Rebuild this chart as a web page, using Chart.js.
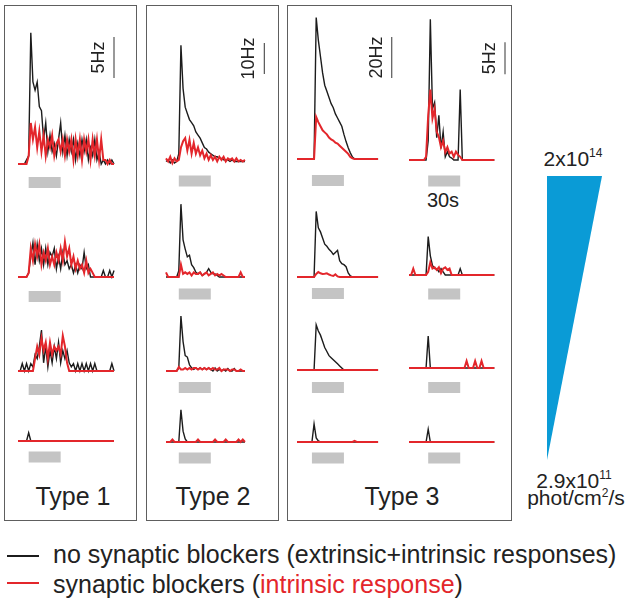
<!DOCTYPE html>
<html>
<head>
<meta charset="utf-8">
<script src="https://cdn.jsdelivr.net/npm/chart.js@4.4.0/dist/chart.umd.min.js"></script>
<style>
  body { margin: 0; width: 630px; height: 605px; position: relative; overflow: hidden; background: #fff;
         font-family: "Liberation Sans", Arial, sans-serif; color: #222; }
  canvas { position: absolute; }
  .box { position: absolute; top: 5px; height: 516px; border: 1.3px solid #5e5e5e; box-sizing: border-box; }
  .txt { position: absolute; line-height: 1; white-space: nowrap; }
  .type { font-size: 25px; transform: translateX(-50%); top: 484px; }
  .tri { font-size: 21px; transform: translateX(-50%); }
  .tri sup { font-size: 12px; vertical-align: 0; position: relative; top: -9px; }
  .legend { font-size: 25px; left: 53px; }
  .dash { position: absolute; left: 7px; width: 32px; height: 2px; }
</style>
</head>
<body>
<div class="box" style="left:4px;width:133px"></div>
<div class="box" style="left:146px;width:133px"></div>
<div class="box" style="left:287px;width:225px"></div>

<div class="txt type" style="left:73px">Type 1</div>
<div class="txt type" style="left:213px">Type 2</div>
<div class="txt type" style="left:402px">Type 3</div>
<div class="txt" style="left:443px;top:190px;font-size:20px;transform:translateX(-50%)">30s</div>

<div class="txt tri" style="left:573px;top:148px">2x10<sup>14</sup></div>
<div class="txt tri" style="left:574px;top:470px">2.9x10<sup>11</sup></div>
<div class="txt tri" style="left:576px;top:487px">phot/cm<sup style="top:-8px">2</sup>/s</div>

<div class="dash" style="top:555px;background:#1c1c1c"></div>
<div class="dash" style="top:582px;background:#e3262b"></div>
<div class="txt legend" style="top:542px">no synaptic blockers (extrinsic+intrinsic responses)</div>
<div class="txt legend" style="top:572px">synaptic blockers (<span style="color:#e3262b">intrinsic response</span>)</div>

<script>
// firing rate in Hz, 2 s bins starting at t = 0; row 1 = brightest light, row 4 = dimmest
const binSec = 2;
const stimDur = 30;
const stimOn = [10, 12, 14, 18];          // light onset per column (s)
const scaleHz = [5, 10, 20, 5];
const scaleLabels = ['5Hz', '10Hz', '20Hz', '5Hz'];
const intensityLog = [11.46, 14.30];      // log10 phot/cm2/s, dimmest -> brightest

// Type 1
const t1Black1 = [0,0,0,0,0.5,1,16,10,9,10, 7,6.5,3,5,1.5,3.5,1.5,2.5,1,3, 5,1.5,3.5,1,3,1.5,3,0.5,2.5,1, 3,1.5,3,0.5,2,1,3,0.5,1.5,0, 0.5,0,0.5,0,0.5,0];
const t1Red1   = [0,0,0,0,0,1,5,3,4.5,2, 4,1.5,3.5,1,3,2,3.5,1,2.5,3, 1.5,3,1,3,1.5,3,0.5,3,1,3, 0.5,3,1.5,3,0.5,3,1,3,0.5,3, 0.5,0.5,0,0.5,0,0];
const t1Black2 = [0,0,0,0,0,0.5,2.5,4.2,1.5,4, 2,3.5,1.5,3.5,1.5,3,2.5,3.5,1,2.5, 1,3,1.5,2,1,1.5,0.5,1.5,0.5,1.5, 1,3,1,1.5,0,0,0,0,0,0, 0.8,0,0,0.8,0,0.8];
const t1Red2   = [0,0,0,0,0,0.5,3.5,2,4,2.5, 4,1.5,3,2,3.5,1.5,2.5,1.5,3,2, 3.5,2,4.3,2.5,3.5,1.5,2.5,1,2,1, 1.5,0.5,2,0.5,1,0.5,0,0,0,0, 0,0,0,0,0,0];
const t1Black3 = [0,0,0.9,0,0.9,0,0.9,0.5,2,1.5, 3,5,1,3,0.5,2.5,1,3,1.5,3.5, 1,2.5,1.5,2.5,1,0.5,0.9,0,0.9,0, 0.9,0,0.9,0,0.9,0,0.9,0,0,0, 0,0,0,0,0.9,0];
const t1Red3   = [0,0,0,0,0,0,0,0,1.5,3, 2,4,2.5,3.5,1.5,3.5,2,3,2.5,3, 2,4.3,3,1,0,0,0,0,0,0, 0,0,0,0,0,0,0,0,0,0, 0,0,0,0,0,0];
const t1Black4 = [0,0,0,0,0,1,0,0,0,0, 0,0,0,0,0,0,0,0,0,0, 0,0,0,0,0,0,0,0,0,0, 0,0,0,0,0,0,0,0,0,0, 0,0,0,0,0,0];
const t1Red4   = [0,0,0,0,0,0,0,0,0,0, 0,0,0,0,0,0,0,0,0,0, 0,0,0,0,0,0,0,0,0,0, 0,0,0,0,0,0,0,0,0,0, 0,0,0,0,0,0];

// Type 2
const t2Black1 = [0.5,1,0,1,0,0.5,3,38,24,18, 16,14,13,12,10,9,8,6.5,5,4.5, 3.5,3,2.5,2,2,1.5,1.5,1,1,1, 0.5,1,0.5,0.5,0.5,0.5,0.5,0.5];
const t2Red1   = [1.5,0.5,2,0,1.5,0.5,1,5,7,8, 4,7.5,3,6.5,3,5,2.5,4,1.5,3, 1,2.5,1,2,0.5,2,1,2,0.5,1.5, 1,1.5,0.5,1.5,0.5,1,0.5,1];
const t2Black2 = [0,0,0,0,0,0,2,23.5,12,9, 6.5,7,4,3,1.5,1,1.5,0.5,1,1.5, 2.7,1.5,1,1,0.5,0,0,0,0,0, 0,0,0,0,0,0,0,0];
const t2Red2   = [1.5,0,0,0,0,0,0,4,1,1.5, 1,1.5,0.5,1.5,1,1,1.5,0.5,1,1.5, 0.5,1,1.5,0.5,1,0.5,1,0.5,0,0, 0,0,0,0,0,1.5,0,0];
const t2Black3 = [0,0,0,0,0,0,1,17.7,9.5,5, 4.5,2,1,0.5,1,0.5,1,0.5,1,0.5, 1,0.5,0,1,0,0.5,0,0.5,0,0.8, 0,0,0.8,0,0,0,0,0];
const t2Red3   = [0,0,0,0,0,0,1.3,0.5,0.5,1, 0.5,1,0.5,1,1,0.5,1,0.5,1,0.5, 1,0.5,1,0.5,0.5,1,0,0.5,0.5,0.5, 0,0.5,0.5,0,0,0.5,0,0];
const t2Black4 = [0,0,0,0,0,0,0,10.4,3.5,1, 0,0,0,0,0,0,0,0,0,0, 0,0,0,0,0,0,0,0,0,0, 0,0,0,0,0,0,0,0];
const t2Red4   = [0,0,0,0.8,0,0,0,0,0,0, 0,0,0,0,0,0.8,0,0,0,0, 0,0,0,0.8,0,0,0,0,0.8,0, 0,0,0,0,0.8,0,0.8,0];

// Type 3, left column
const t3aBlack1 = [0,0,0,0,0,0,0,0,0,69, 58,50,42,36,33,30,27,25,22,20, 18,16,12,8.5,5.5,3,1,0,0,0, 0,0,0,0,0,0,0,0,0];
const t3aRed1   = [0,0,0,0,0,0,0,0,0,20.5, 18,16,14,13,12,10.5,9.5,9,8,7.5, 6.5,5.5,4.5,3.5,2.5,1,0.3,0,0,0, 0,0,0,0,0,0,0,0,0];
const t3aBlack2 = [0,0,0,0,0,0,0,0,0,32, 24,22,19,16,15,13.5,12.5,11,12,13, 8,6.5,6,5,2,0.5,0,0,0,0, 0,0,0,0,0,0,0,0,0];
const t3aRed2   = [0,0,0,0,0,0,0,0,0,1.5, 2.4,1.8,1.5,1.6,1.8,1.2,0.8,0.5,1.3,0.3, 0,0,0,0,0,0,0,0,0,0, 0,0,0,0,0,0,0,0,0];
const t3aBlack3 = [0,0,0,0,0,0,0,0,0,22, 19,17,14,11,9,7,6,5,4,3, 2,1,0,0,0,0,0,0,0,0, 0,0,0,0,0,0,0,0,0];
const t3aRed3   = [0,0,0,0,0,0,0,0,0,0, 0,0,0,0,0,0,0,0,0,0, 0,0,0,0,0,0,0,0,0,0, 0,0,0,0,0,0,0,0,0];
const t3aBlack4 = [0,0,0,0,0,0,0,0,8.8,2, 0.5,0,0,0,0,0,0,0,0,0, 0,0,0,0,0,0,0,0,0,0, 0,0,0,0,0,0,0,0,0];
const t3aRed4   = [0,0,0,0,0,0,0,0,0,0, 0,0,0,0,0,0,0,0,0,0, 0,0,0,0,0,0,0,0.5,0,0, 0,0,0,0,0,0,0,0,0];

// Type 3, right column
const t3bBlack1 = [0,0,0,0,0,0,0,0,0,3, 22,8,9,3.5,7,1.8,4.4,0.5,1.3,0.5, 0.3,0,0,0,11,0,0,0,0,0, 0,0,0,0,0,0,0,0,0,0, 0];
const t3bRed1   = [0,0,0,0,0,0,0,0,0.5,7, 11,6.5,8,4.4,3.6,2,3,1.2,2,1, 1.3,0.5,1.3,0.8,0.5,0,0,0,0,0, 0,0,0,0,0,0,0,0,0,0, 0];
const t3bBlack2 = [0,0,0,0,0,0,0,0,0,6, 3,1.5,1,1,0.5,1,0.5,0,0,0, 0,0,0,0,1,0,0,0,0,0, 0,0,0,0,0,0,0,0,0,0, 0];
const t3bRed2   = [0,0,1,0,0,0,0,0,0,0.5, 2,1,1.2,0.8,1.2,0.3,1,1.2,0.8,1, 0,0,0,0,0,0,0,0,0,0, 0,0,0,0,0,0,0,0,0,0, 0];
const t3bBlack3 = [0,0,0,0,0,0,0,0,0,5, 0,0,0,0,0,0,0,0,0,0, 0,0,0,0,0,0,0,0,0,0, 0,0,0,0,0,0,0,0,0,0, 0];
const t3bRed3   = [0,0,0,0,0,0,0,0,0,0, 0,0,0,0,0,0,0,0,0,0, 0,0,0,0,0,0,0,1.1,0,0, 0,1.1,0,0,1.1,0,0,0,0,0, 0];
const t3bBlack4 = [0,0,0,0,0,0,0,0,0,2, 0,0,0,0,0,0,0,0,0,0, 0,0,0,0,0,0,0,0,0,0, 0,0,0,0,0,0,0,0,0,0, 0];
const t3bRed4   = [0,0,0,0,0,0,0,0,0,0, 0,0,0,0,0,0,0,0,0,0, 0,0,0,0,0,0,0,0,0,0, 0,0,0,0,0,0,0,0,0,0, 0];

const traces = [
  [[t1Black1, t1Red1], [t1Black2, t1Red2], [t1Black3, t1Red3], [t1Black4, t1Red4]],
  [[t2Black1, t2Red1], [t2Black2, t2Red2], [t2Black3, t2Red3], [t2Black4, t2Red4]],
  [[t3aBlack1, t3aRed1], [t3aBlack2, t3aRed2], [t3aBlack3, t3aRed3], [t3aBlack4, t3aRed4]],
  [[t3bBlack1, t3bRed1], [t3bBlack2, t3bRed2], [t3bBlack3, t3bRed3], [t3bBlack4, t3bRed4]]
];

// page layout (pixels): where t = 0 sits, baseline and light bar of each row
const pxPerSec = 32 / 30;
const layout = [
  { x0: 18,  pxPerHz: 8.2,  scaleT: 90,   scaleFrom: 10.5, base: [164, 277, 371, 441], bar: [182.5, 296.5, 389.5, 457] },
  { x0: 166, pxPerHz: 3.1,  scaleT: 92.2, scaleFrom: 28.7, base: [163, 277, 371, 442], bar: [181, 294, 387.5, 458] },
  { x0: 297, pxPerHz: 2.05, scaleT: 88.8, scaleFrom: 39.5, base: [159, 277, 370, 442], bar: [180.5, 293.5, 387.5, 458] },
  { x0: 409, pxPerHz: 6.4,  scaleT: 90,   scaleFrom: 13.4, base: [160, 275, 368, 442], bar: [181, 294, 387.5, 458] }
];

const BLACK = '#1c1c1c';
const RED = '#e3262b';
const GRAY = '#c4c4c4';

const toXY = arr => arr.map((v, i) => ({ x: i * binSec, y: v }));

function scaleLabelPlugin(text, t, from, hz) {
  return {
    id: 'scaleLabel',
    afterDatasetsDraw(chart) {
      const { ctx, scales } = chart;
      const px = scales.x.getPixelForValue(t) - 15;
      const py = scales.y.getPixelForValue(from + hz / 2);
      ctx.save();
      ctx.translate(px, py);
      ctx.rotate(-Math.PI / 2);
      ctx.font = '18px "Liberation Sans", Arial, sans-serif';
      ctx.fillStyle = '#222';
      ctx.textAlign = 'center';
      ctx.textBaseline = 'middle';
      ctx.fillText(text, 0, 0);
      ctx.restore();
    }
  };
}

function drawTrace(col, row) {
  const L = layout[col];
  const base = L.base[row];
  // baseline on a pixel edge: the 2px red line then fully hides the black one underneath
  const above = 150, below = 30, padLeft = 6, width = 112;
  const cv = document.createElement('canvas');
  cv.width = width;
  cv.height = above + below;
  cv.style.left = (L.x0 - padLeft) + 'px';
  cv.style.top = (base - above) + 'px';
  document.body.appendChild(cv);

  const [black, red] = traces[col][row];
  const barY = -(L.bar[row] - base) / L.pxPerHz;
  const datasets = [
    { data: toXY(red), borderColor: RED, borderWidth: 2, order: 1 },
    { data: toXY(black), borderColor: BLACK, borderWidth: 1.4, order: 2 },
    { data: [{ x: stimOn[col], y: barY }, { x: stimOn[col] + stimDur, y: barY }],
      borderColor: GRAY, borderWidth: 11, borderCapStyle: 'butt', order: 3 }
  ];
  const plugins = [];
  if (row === 0) {
    datasets.push({ data: [{ x: L.scaleT, y: L.scaleFrom }, { x: L.scaleT, y: L.scaleFrom + scaleHz[col] }],
      borderColor: '#555', borderWidth: 1.2, order: 4 });
    plugins.push(scaleLabelPlugin(scaleLabels[col], L.scaleT, L.scaleFrom, scaleHz[col]));
  }
  datasets.forEach(d => Object.assign(d, { showLine: true, pointRadius: 0, tension: 0, clip: false, fill: false }));

  new Chart(cv, {
    type: 'scatter',
    data: { datasets },
    options: {
      responsive: false,
      animation: false,
      devicePixelRatio: 1,
      layout: { padding: 0 },
      events: [],
      plugins: { legend: { display: false }, tooltip: { enabled: false } },
      scales: {
        x: { type: 'linear', display: false, min: -padLeft / pxPerSec, max: (width - padLeft) / pxPerSec },
        y: { type: 'linear', display: false, min: -below / L.pxPerHz, max: above / L.pxPerHz }
      }
    },
    plugins
  });
}

for (let c = 0; c < 4; c++) {
  for (let r = 0; r < 4; r++) drawTrace(c, r);
}

// light intensity wedge
const wedge = document.createElement('canvas');
wedge.width = 55;
wedge.height = 284;
wedge.style.left = '547px';
wedge.style.top = '176px';
document.body.appendChild(wedge);
new Chart(wedge, {
  type: 'scatter',
  data: {
    datasets: [{
      data: [{ x: 0, y: intensityLog[0] }, { x: 1, y: intensityLog[1] }, { x: 0, y: intensityLog[1] }],
      showLine: true, pointRadius: 0, borderWidth: 0, tension: 0,
      backgroundColor: '#0a9bd6', borderColor: '#0a9bd6', fill: 'shape', clip: false
    }]
  },
  options: {
    responsive: false,
    animation: false,
    devicePixelRatio: 1,
    layout: { padding: 0 },
    events: [],
    plugins: { legend: { display: false }, tooltip: { enabled: false } },
    scales: {
      x: { type: 'linear', display: false, min: 0, max: 1 },
      y: { type: 'linear', display: false, min: intensityLog[0], max: intensityLog[1] }
    }
  }
});
</script>
</body>
</html>
